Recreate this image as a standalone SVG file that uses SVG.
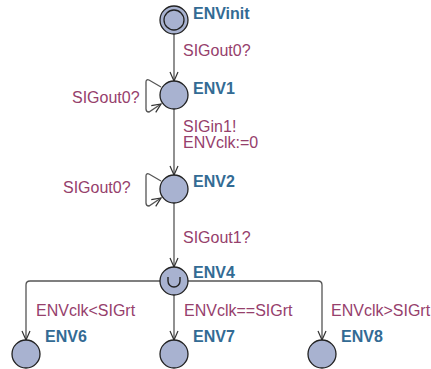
<svg xmlns="http://www.w3.org/2000/svg" width="431" height="369" viewBox="0 0 431 369">
<style>
.loc{fill:#a8b2d0;stroke:#222;stroke-width:1.3}
.nl{font-family:"Liberation Sans",Arial,sans-serif;font-size:16px;font-weight:bold;fill:#336b94}
.el{font-family:"Liberation Sans",Arial,sans-serif;font-size:16px;fill:#96406c}
.edge{fill:none;stroke:#555;stroke-width:1.3;marker-end:url(#arr)}
</style>
<defs>
<marker id="arr" markerUnits="userSpaceOnUse" markerWidth="12" markerHeight="12" viewBox="-10 -6 12 12" refX="0" refY="0" orient="auto">
<path d="M-9,-4 L0,0 L-9,4" fill="none" stroke="#333" stroke-width="1.2"/>
</marker>
</defs>
<rect width="431" height="369" fill="#fff"/>
<g id="connectors">
<path class="edge" d="M174 34 L174 81"/>
<path class="edge" d="M161 87 L149 80 Q146 79 146 82 L146 109 Q146 112 149 112 L161 104"/>
<path class="edge" d="M174 109 L174 175"/>
<path class="edge" d="M161 181 L149 174 Q146 173 146 176 L146 203 Q146 206 149 206 L161 198"/>
<path class="edge" d="M174 203 L174 267"/>
<path class="edge" d="M160 281 L30 281 Q26 281 26 285 L26 340"/>
<path class="edge" d="M174 295 L174 340"/>
<path class="edge" d="M188 281 L318 281 Q322 281 322 285 L322 340"/>
<text class="el" x="183" y="56">SIGout0?</text>
<text class="el" x="72" y="103">SIGout0?</text>
<text class="el" x="183" y="132">SIGin1!</text>
<text class="el" x="183" y="148">ENVclk:=0</text>
<text class="el" x="63" y="193">SIGout0?</text>
<text class="el" x="183" y="243">SIGout1?</text>
<text class="el" x="36" y="316">ENVclk&lt;SIGrt</text>
<text class="el" x="184" y="316">ENVclk==SIGrt</text>
<text class="el" x="331" y="316">ENVclk&gt;SIGrt</text>
</g>
<g id="ENVinit">
<circle class="loc" cx="174" cy="20" r="14"/>
<circle class="loc" cx="174" cy="20" r="10"/>
<text class="nl" x="193" y="19">ENVinit</text>
</g>
<g id="ENV1">
<circle class="loc" cx="174" cy="95" r="14"/>
<text class="nl" x="193" y="94">ENV1</text>
</g>
<g id="ENV2">
<circle class="loc" cx="174" cy="189" r="14"/>
<text class="nl" x="193" y="187">ENV2</text>
</g>
<g id="ENV4">
<circle class="loc" cx="174" cy="281" r="14"/>
<path d="M168 277 L168 281 A6 6 0 0 0 180 281 L180 277" fill="none" stroke="#222" stroke-width="1.4"/>
<text class="nl" x="193" y="278">ENV4</text>
</g>
<g id="ENV6">
<circle class="loc" cx="26" cy="354" r="14"/>
<text class="nl" x="45" y="342">ENV6</text>
</g>
<g id="ENV7">
<circle class="loc" cx="174" cy="354" r="14"/>
<text class="nl" x="193" y="342">ENV7</text>
</g>
<g id="ENV8">
<circle class="loc" cx="322" cy="354" r="14"/>
<text class="nl" x="341" y="342">ENV8</text>
</g>
</svg>
